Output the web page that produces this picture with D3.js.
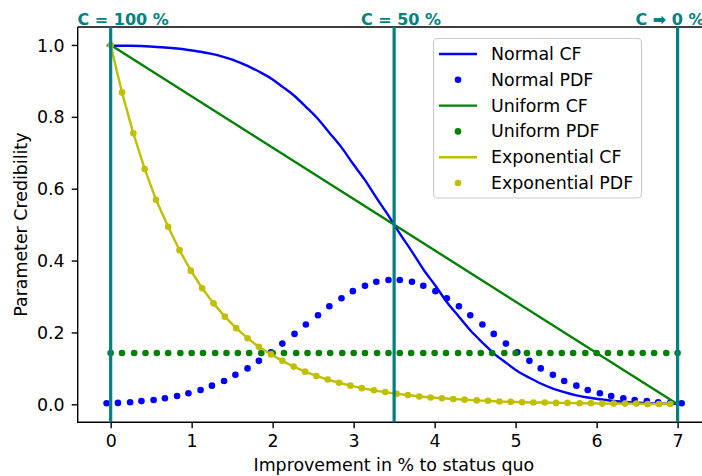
<!DOCTYPE html>
<html>
<head>
<meta charset="utf-8">
<script src="https://cdn.jsdelivr.net/npm/d3@7"></script>
<style>
  body { margin: 0; background: #fff; }
  svg { display: block; font-family: "DejaVu Sans", sans-serif; }
</style>
</head>
<body>
<svg id="chart" width="702" height="476"></svg>
<script>
// normal distribution (mean 3.5), sampled points
const normalX = [-0.05, 0.09, 0.24, 0.38, 0.53, 0.67, 0.82, 0.96, 1.11, 1.25, 1.40, 1.54, 1.69, 1.83, 1.98, 2.12, 2.27, 2.41, 2.56, 2.70,
  2.85, 2.99, 3.14, 3.28, 3.43, 3.57, 3.72, 3.86, 4.01, 4.15, 4.30, 4.44, 4.59, 4.73, 4.88, 5.02, 5.17, 5.31, 5.46, 5.60,
  5.75, 5.89, 6.04, 6.18, 6.33, 6.47, 6.62, 6.76, 6.91, 7.05];
const normalCF = [0.999, 0.998, 0.998, 0.997, 0.995, 0.993, 0.990, 0.986, 0.981, 0.975, 0.966, 0.956, 0.942, 0.926, 0.907, 0.884, 0.858, 0.828, 0.794, 0.756,
  0.715, 0.670, 0.624, 0.575, 0.525, 0.475, 0.425, 0.376, 0.330, 0.285, 0.244, 0.206, 0.172, 0.142, 0.116, 0.093, 0.074, 0.058, 0.044, 0.034,
  0.025, 0.019, 0.014, 0.010, 0.007, 0.005, 0.003, 0.002, 0.002, 0.001];
const normalPDF = [0.003, 0.004, 0.006, 0.009, 0.012, 0.017, 0.023, 0.031, 0.040, 0.052, 0.065, 0.082, 0.100, 0.121, 0.145, 0.169, 0.196, 0.222, 0.248, 0.273,
  0.295, 0.315, 0.330, 0.341, 0.346, 0.346, 0.341, 0.330, 0.315, 0.295, 0.273, 0.248, 0.222, 0.196, 0.169, 0.145, 0.121, 0.100, 0.082, 0.065,
  0.052, 0.040, 0.031, 0.023, 0.017, 0.012, 0.009, 0.006, 0.004, 0.003];

// uniform distribution on [0, 7]
const uniformCFX = [0, 7];
const uniformCF = [1, 0];
const uniformX = [0.00, 0.14, 0.29, 0.43, 0.57, 0.71, 0.86, 1.00, 1.14, 1.29, 1.43, 1.57, 1.71, 1.86, 2.00, 2.14, 2.29, 2.43, 2.57, 2.71,
  2.86, 3.00, 3.14, 3.29, 3.43, 3.57, 3.71, 3.86, 4.00, 4.14, 4.29, 4.43, 4.57, 4.71, 4.86, 5.00, 5.14, 5.29, 5.43, 5.57,
  5.71, 5.86, 6.00, 6.14, 6.29, 6.43, 6.57, 6.71, 6.86, 7.00];
const uniformPDF = [0.143, 0.143, 0.143, 0.143, 0.143, 0.143, 0.143, 0.143, 0.143, 0.143, 0.143, 0.143, 0.143, 0.143, 0.143, 0.143, 0.143, 0.143, 0.143, 0.143,
  0.143, 0.143, 0.143, 0.143, 0.143, 0.143, 0.143, 0.143, 0.143, 0.143, 0.143, 0.143, 0.143, 0.143, 0.143, 0.143, 0.143, 0.143, 0.143, 0.143,
  0.143, 0.143, 0.143, 0.143, 0.143, 0.143, 0.143, 0.143, 0.143, 0.143];

// exponential distribution (CF and PDF coincide)
const expX = [0.00, 0.14, 0.28, 0.42, 0.56, 0.71, 0.85, 0.99, 1.13, 1.27, 1.41, 1.55, 1.69, 1.83, 1.98, 2.12, 2.26, 2.40, 2.54, 2.68,
  2.82, 2.96, 3.10, 3.25, 3.39, 3.53, 3.67, 3.81, 3.95, 4.09, 4.23, 4.37, 4.52, 4.66, 4.80, 4.94, 5.08, 5.22, 5.36, 5.50,
  5.64, 5.79, 5.93, 6.07, 6.21, 6.35, 6.49, 6.63, 6.77, 6.91];
const expCF = [1.000, 0.868, 0.754, 0.655, 0.569, 0.494, 0.429, 0.372, 0.323, 0.281, 0.244, 0.212, 0.184, 0.160, 0.139, 0.121, 0.105, 0.091, 0.079, 0.069,
  0.060, 0.052, 0.045, 0.039, 0.034, 0.029, 0.026, 0.022, 0.019, 0.017, 0.015, 0.013, 0.011, 0.010, 0.008, 0.007, 0.006, 0.005, 0.005, 0.004,
  0.004, 0.003, 0.003, 0.002, 0.002, 0.002, 0.002, 0.001, 0.001, 0.001];
const expPDF = expCF.slice();

// reference lines
const refX = [0, 3.5, 7];
const refLabels = ["C = 100 %", "C = 50 %", "C \u27A1 0 %"];

const xTicks = [0, 1, 2, 3, 4, 5, 6, 7];
const yTicks = [0, 0.2, 0.4, 0.6, 0.8, 1.0];

const legendNames = ["Normal CF", "Normal PDF", "Uniform CF", "Uniform PDF", "Exponential CF", "Exponential PDF"];

const blue = "#0000ff", green = "#008000", yellow = "#bfbf00", teal = "#008080";
const fs = 17.4;

const svg = d3.select("#chart");
const margin = { left: 77.7, top: 27, right: 710, bottom: 422.3 };

const x = d3.scaleLinear().domain([-0.407, 7.4]).range([margin.left, margin.right]);
const y = d3.scaleLinear().domain([-0.05, 1.05]).range([margin.bottom, margin.top]);

// axes
const xAxis = svg.append("g")
  .attr("transform", `translate(0,${margin.bottom})`)
  .call(d3.axisBottom(x).tickValues(xTicks).tickFormat(d3.format("d")).tickSize(6).tickPadding(6).tickSizeOuter(0));
const yAxis = svg.append("g")
  .attr("transform", `translate(${margin.left},0)`)
  .call(d3.axisLeft(y).tickValues(yTicks).tickFormat(d3.format(".1f")).tickSize(6).tickPadding(7).tickSizeOuter(0));

[xAxis, yAxis].forEach(g => {
  g.selectAll("text").attr("font-size", fs).attr("font-family", "DejaVu Sans").attr("fill", "#000");
  g.selectAll("line").attr("stroke", "#000").attr("stroke-width", 1.4);
  g.select(".domain").remove();
});
yAxis.selectAll("text").attr("dy", "0.35em");

// spines
svg.append("path")
  .attr("d", `M${margin.left},${margin.top}V${margin.bottom}H${margin.right}M${margin.left},${margin.top}H${margin.right}`)
  .attr("fill", "none").attr("stroke", "#000").attr("stroke-width", 1.4);

// axis labels
svg.append("text").attr("x", (margin.left + margin.right) / 2).attr("y", 470.5)
  .attr("text-anchor", "middle").attr("font-size", fs).text("Improvement in % to status quo");
svg.append("text").attr("transform", `translate(27,${(margin.top + margin.bottom) / 2}) rotate(-90)`)
  .attr("text-anchor", "middle").attr("font-size", fs).text("Parameter Credibility");

const plot = svg.append("g");

function drawLine(xs, ys, color, curve) {
  const line = d3.line().x((d, i) => x(xs[i])).y(d => y(d)).curve(curve || d3.curveLinear);
  plot.append("path").attr("d", line(ys)).attr("fill", "none")
    .attr("stroke", color).attr("stroke-width", 2.4).attr("stroke-linejoin", "round");
}
function drawDots(xs, ys, color) {
  plot.append("g").selectAll("circle").data(ys).join("circle")
    .attr("cx", (d, i) => x(xs[i])).attr("cy", d => y(d)).attr("r", 3.3).attr("fill", color);
}

drawLine(normalX, normalCF, blue, d3.curveMonotoneX);
drawDots(normalX, normalPDF, blue);
drawLine(uniformCFX, uniformCF, green);
drawDots(uniformX, uniformPDF, green);
drawLine(expX, expCF, yellow);
drawDots(expX, expPDF, yellow);

// vertical reference lines and labels
const labelDx = [-0.41, -0.41, -0.52];
svg.append("g").selectAll("line").data(refX).join("line")
  .attr("x1", d => x(d)).attr("x2", d => x(d))
  .attr("y1", margin.top).attr("y2", margin.bottom)
  .attr("stroke", teal).attr("stroke-width", 3.2);
svg.append("g").selectAll("text").data(refX).join("text")
  .attr("x", (d, i) => x(d + labelDx[i])).attr("y", 25)
  .attr("font-size", 16).attr("font-weight", "bold").attr("fill", teal)
  .text((d, i) => refLabels[i]);

// legend
const legend = svg.append("g");
legend.append("rect").attr("x", 433.5).attr("y", 38.5).attr("width", 208).attr("height", 159.5)
  .attr("rx", 4).attr("fill", "#fff").attr("fill-opacity", 0.8).attr("stroke", "#cccccc").attr("stroke-width", 1.2);
const legendColors = [blue, blue, green, green, yellow, yellow];
const rowY = d3.scaleLinear().domain([0, 5]).range([54, 183]);
legendNames.forEach((name, i) => {
  const ly = rowY(i);
  if (i % 2 === 0) {
    legend.append("line").attr("x1", 439).attr("x2", 477).attr("y1", ly).attr("y2", ly)
      .attr("stroke", legendColors[i]).attr("stroke-width", 2.4);
  } else {
    legend.append("circle").attr("cx", 458).attr("cy", ly).attr("r", 3.3).attr("fill", legendColors[i]);
  }
  legend.append("text").attr("x", 491).attr("y", ly).attr("dy", "0.35em")
    .attr("font-size", fs).text(name);
});
</script>
</body>
</html>
